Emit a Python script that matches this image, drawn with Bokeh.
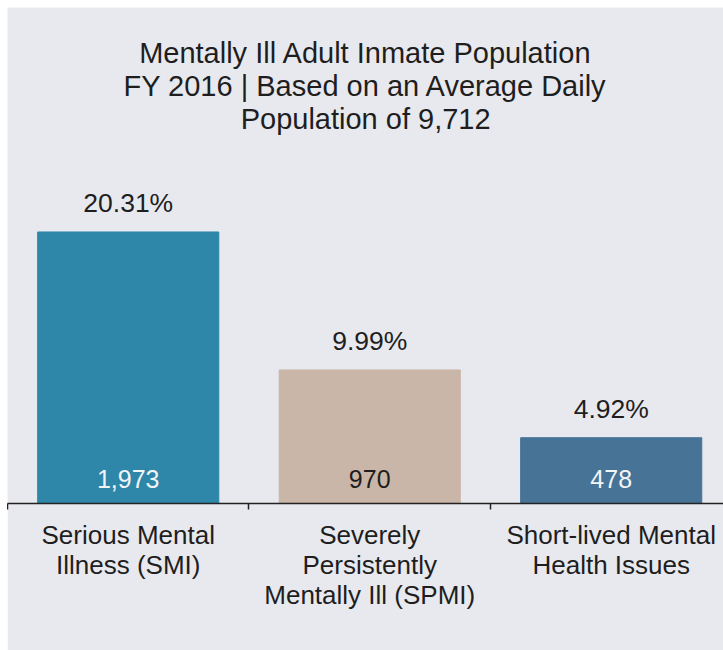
from bokeh.plotting import figure
from bokeh.models import ColumnDataSource, Range1d, FixedTicker, Label
from bokeh.core.properties import value
from bokeh.embed import file_html
from bokeh.resources import INLINE

categories = ["Serious Mental\nIllness (SMI)",
              "Severely\nPersistently\nMentally Ill (SPMI)",
              "Short-lived Mental\nHealth Issues"]
percents = [20.31, 9.99, 4.92]
counts = [1973, 970, 478]
colors = ["#2e87a8", "#c9b6a9", "#467396"]
count_colors = ["#f2f4f6", "#1e1e1e", "#f2f4f6"]
title_lines = ["Mentally Ill Adult Inmate Population",
               "FY 2016 | Based on an Average Daily",
               "Population of 9,712"]

FONT = "Liberation Sans"
BG = "#e8e9ee"

xs = list(range(len(categories)))
src = ColumnDataSource(dict(
    x=xs, top=percents, color=colors,
    pct=[f"{v:.2f}%" for v in percents],
    cnt=[f"{c:,}" for c in counts],
    cnt_color=count_colors,
    zero=[0] * len(xs),
))

FRAME_H = 496
Y_END = 37.1
p = figure(width=716, height=643, output_backend="svg", toolbar_location=None,
           x_range=Range1d(-0.5, 2.465), y_range=Range1d(0, Y_END),
           margin=(7, 0, 0, 7))
p.background_fill_color = BG
p.border_fill_color = BG
p.outline_line_color = None
p.min_border_left = 0
p.min_border_right = 0
p.min_border_top = 0
p.min_border_bottom = 643 - FRAME_H
p.grid.visible = False
p.yaxis.visible = False

p.vbar(x="x", top="top", width=0.75, bottom=0, color="color", source=src)

p.text(x="x", y="top", text="pct", source=src, y_offset=-29,
       text_align="center", text_baseline="middle",
       text_font=value(FONT), text_font_size="26.5px", text_color="#1e1e1e")
p.text(x="x", y="zero", text="cnt", source=src, y_offset=-25,
       text_align="center", text_baseline="middle",
       text_font=value(FONT), text_font_size="25px", text_color="cnt_color")

ax = p.xaxis[0]
ax.ticker = FixedTicker(ticks=xs, minor_ticks=[i - 0.5 for i in xs] + [len(xs) - 0.5])
ax.major_label_overrides = {i: c for i, c in enumerate(categories)}
ax.major_tick_out = 0
ax.major_tick_in = 0
ax.minor_tick_out = 6
ax.minor_tick_in = 0
ax.minor_tick_line_color = "#222222"
ax.minor_tick_line_width = 1.5
ax.axis_line_color = "#222222"
ax.axis_line_width = 1.5
ax.major_label_standoff = 10
ax.major_label_text_font = FONT
ax.major_label_text_font_size = "26px"
ax.major_label_text_color = "#1e1e1e"
ax.major_label_text_line_height = 1.0

px_per_unit = FRAME_H / Y_END
for i, line in enumerate(title_lines):
    yfig = 45 + 33 * i
    p.add_layout(Label(x=0.983, y=(FRAME_H - yfig) / px_per_unit, text=line,
                       text_align="center", text_baseline="middle",
                       text_font=FONT, text_font_size="29px", text_color="#1e1e1e"))

open("out.html", "w").write(file_html(p, INLINE))
